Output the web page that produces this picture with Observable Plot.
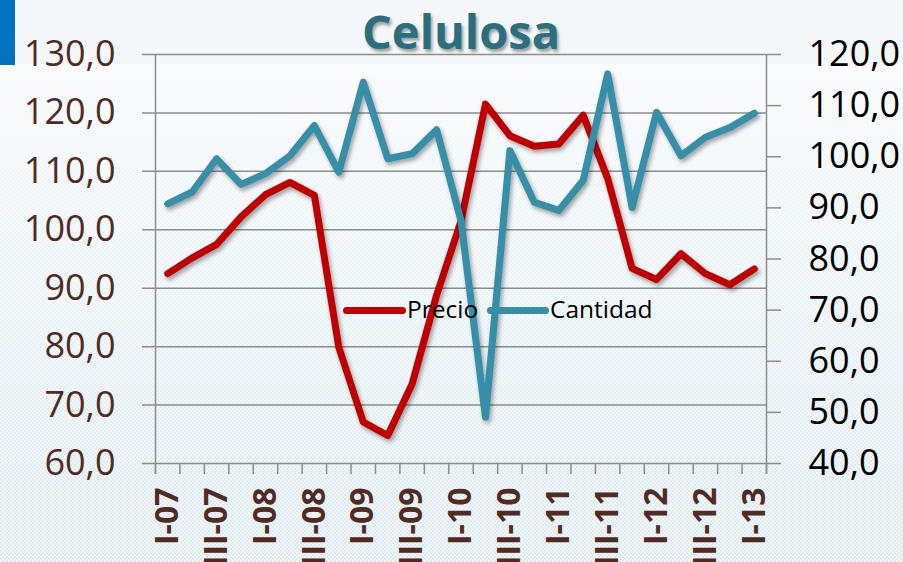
<!DOCTYPE html>
<html><head><meta charset="utf-8">
<script src="https://cdn.jsdelivr.net/npm/d3@7"></script>
<script src="https://cdn.jsdelivr.net/npm/@observablehq/plot@0.6"></script>
<style>
html,body{margin:0;padding:0;width:903px;height:562px;overflow:hidden;}
body{position:relative;font-family:"Open Sans",sans-serif;
  background-color:#E8F1F5;
  background-image:
    linear-gradient(to bottom, #F4F7FA 0, #F5F8FA 64px, rgba(251,252,253,0.92) 64px, rgba(246,250,251,0.6) 260px, rgba(240,246,249,0.15) 470px, rgba(240,246,249,0) 562px),
    repeating-conic-gradient(#DDEBF1 0 25%, #F1F7F9 0 50%);
  background-size:100% 100%, 4px 4px;}
#bar{position:absolute;left:0;top:0;width:15px;height:65px;background:#0070C0;}
#chart{position:absolute;left:0;top:0;width:903px;height:562px;}
#chart svg{position:absolute;left:0;top:0;}
g[aria-label="line"] path{filter:drop-shadow(2px 3px 2px rgba(0,0,0,0.35));}
#title{position:absolute;left:0;top:8px;width:922px;text-align:center;font-family:"Open Sans",sans-serif;font-weight:bold;font-size:47px;line-height:47px;color:#2A6F7F;text-shadow:2px 3px 3px rgba(0,0,0,0.35);}
.sw{position:absolute;height:7px;border-radius:3.5px;}
.lt{position:absolute;font-family:"Open Sans",sans-serif;font-size:24.5px;line-height:24.5px;color:#000;}
</style>
</head><body>
<div id="bar"></div>
<div id="chart"></div>
<div id="title">Celulosa</div>
<div class="sw" style="left:343px;top:307px;width:63px;background:#C00000"></div>
<div class="lt" style="left:407px;top:297px">Precio</div>
<div class="sw" style="left:487px;top:306.5px;width:62px;background:#368FA8"></div>
<div class="lt" style="left:550px;top:297px">Cantidad</div>
<script>
const quarters = ["I-07","II-07","III-07","IV-07","I-08","II-08","III-08","IV-08","I-09","II-09","III-09","IV-09","I-10","II-10","III-10","IV-10","I-11","II-11","III-11","IV-11","I-12","II-12","III-12","IV-12","I-13"];
const precio = [92.5,95.2,97.5,102.2,106.0,108.1,105.9,79.9,67.1,64.8,73.6,88.8,101.5,121.5,116.1,114.3,114.7,119.6,108.8,93.4,91.5,95.9,92.5,90.6,93.3];
const cantidad = [90.8,93.1,99.6,94.6,96.7,100.2,106.1,97.0,114.6,99.6,100.6,105.3,87.5,49.1,101.2,91.1,89.5,95.4,116.2,90.1,108.7,100.2,103.8,105.7,108.5];
const leftTicks = [60,70,80,90,100,110,120,130];
const rightTicks = [40,50,60,70,80,90,100,110,120];

const fmt = d => d.toFixed(1).replace(".", ",");
const W = 903, H = 562;
const M = {marginTop:54, marginRight:137, marginBottom:99, marginLeft:155};
const n = quarters.length;
const xIdx = quarters.map((q,i) => i);
const bounds = quarters.map((q,i) => i - 0.5).concat([n - 0.5]);
const labelIdx = xIdx.filter(i => /^(I|III)-/.test(quarters[i]));
const grid = "#8c8c8c", brown = "#512B1F";
const style = {background:"transparent", fontFamily:"'Open Sans', sans-serif", overflow:"visible"};

const p1 = Plot.plot({
  width:W, height:H, ...M, style,
  x:{type:"linear", domain:[-0.5, n - 0.5]},
  y:{domain:[60,130]},
  marks:[
    Plot.ruleY(leftTicks, {stroke:grid, strokeWidth:1.5, insetLeft:-13}),
    Plot.ruleX(bounds, {stroke:grid, strokeWidth:1.5, insetTop:409, insetBottom:-11}),
    Plot.ruleX([bounds[0], bounds[n]], {stroke:grid, strokeWidth:1.5, insetBottom:-11}),
    Plot.axisY(leftTicks, {tickSize:0, tickPadding:40, tickFormat:fmt, fontSize:36, fill:brown}),
    Plot.axisX(labelIdx, {tickSize:0, tickPadding:24, tickRotate:-90, tickFormat:i => quarters[i], fontSize:32, fontWeight:"bold", fill:brown}),
    Plot.lineY(precio, {x:(d,i) => i, y:d => d, stroke:"#C00000", strokeWidth:7, strokeLinejoin:"round", strokeLinecap:"round"})
  ]
});

const p2 = Plot.plot({
  width:W, height:H, ...M, style,
  x:{type:"linear", domain:[-0.5, n - 0.5], axis:null},
  y:{domain:[40,120]},
  marks:[
    Plot.axisY(rightTicks, {anchor:"right", tickSize:14, tickPadding:28, tickFormat:fmt, fontSize:36, fill:"#000", stroke:grid, strokeWidth:1.5}),
    Plot.lineY(cantidad, {x:(d,i) => i, y:d => d, stroke:"#368FA8", strokeWidth:7, strokeLinejoin:"round", strokeLinecap:"round"})
  ]
});

const c = document.getElementById("chart");
c.appendChild(p1);
c.appendChild(p2);
</script>
</body></html>
